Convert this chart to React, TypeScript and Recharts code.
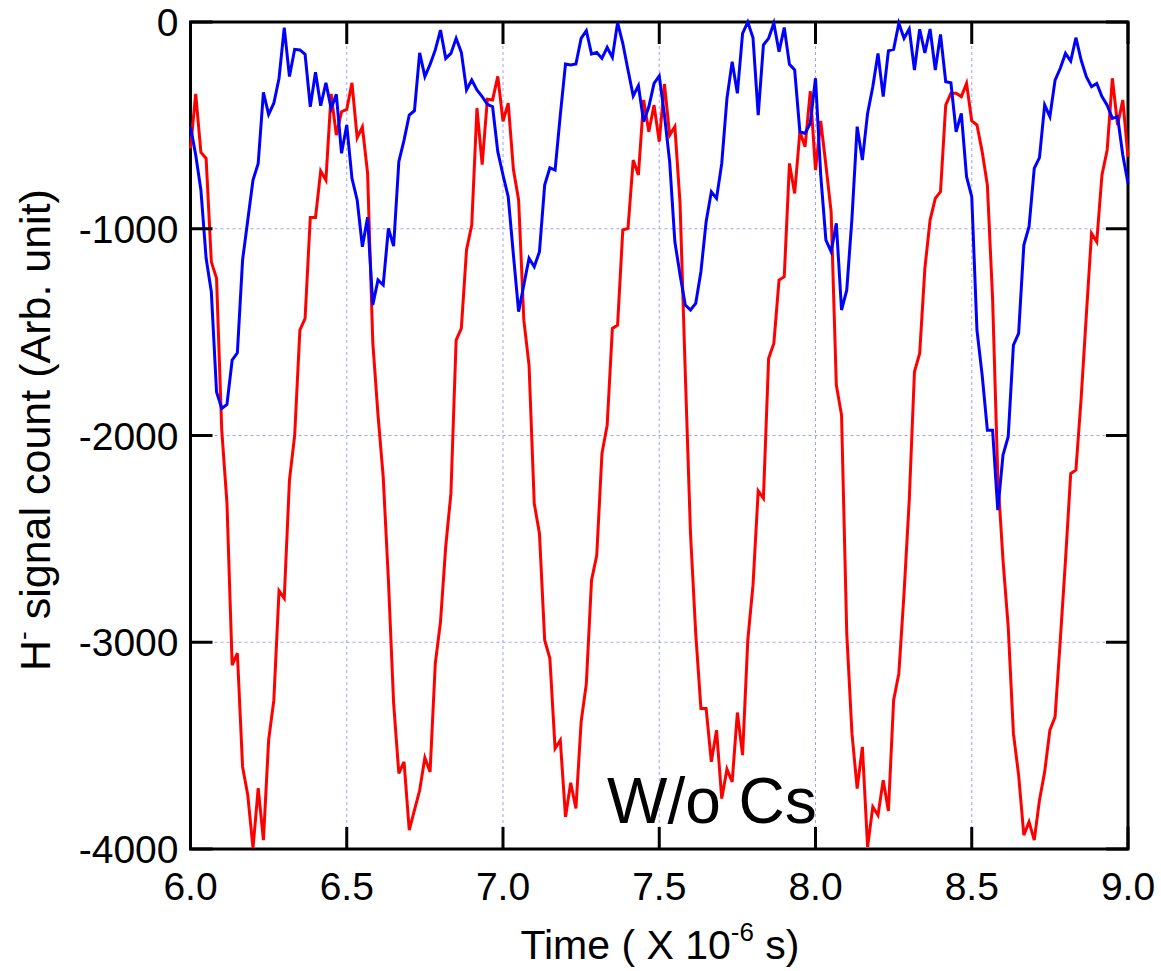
import { LineChart, Line, XAxis, YAxis, CartesianGrid, ReferenceArea } from 'recharts';

// sampling: one point every 1/60 us, starting at 6.0 us
const TIME_START = 6;
const SAMPLES_PER_US = 60;

const timeTicks = [6, 6.5, 7, 7.5, 8, 8.5, 9];
const countTicks = [-4000, -3000, -2000, -1000, 0];

const redSignal = [
    -611, -348, -631, -660, -1160, -1240, -1974, -2327, -3111, -3053,
    -3603, -3740, -3996, -3706, -3957, -3474, -3280, -2751, -2787, -2216,
    -2000, -1490, -1434, -945, -945, -721, -765, -348, -547, -434,
    -423, -294, -560, -507, -731, -1550, -1900, -2200, -2700, -3295,
    -3634, -3578, -3909, -3812, -3716, -3558, -3627, -3103, -2901, -2538,
    -2280, -1539, -1482, -1101, -982, -416, -690, -373, -377, -263,
    -480, -392, -714, -861, -1442, -1659, -2329, -2474, -2990, -3078,
    -3514, -3474, -3845, -3680, -3804, -3385, -3200, -2700, -2579, -2087,
    -1950, -1482, -1466, -1006, -998, -668, -740, -377, -531, -402,
    -579, -300, -547, -506, -880, -1700, -2474, -2956, -3320, -3320,
    -3578, -3425, -3756, -3614, -3675, -3340, -3546, -2990, -2724, -2268,
    -2304, -1627, -1555, -1248, -1232, -684, -829, -531, -603, -334,
    -716, -479, -692, -918, -1756, -1901, -2956, -3441, -3708, -3506,
    -3990, -3796, -3837, -3667, -3816, -3280, -3151, -2764, -2313, -1692,
    -1603, -1192, -958, -853, -821, -402, -345, -345, -361, -297,
    -479, -498, -627, -789, -1337, -2200, -2603, -2925, -3441, -3643,
    -3933, -3869, -3957, -3764, -3627, -3425, -3361, -2990, -2603, -2184,
    -2167, -1821, -1418, -1022, -1063, -740, -619, -272, -498, -377,
    -652,
];

const blueSignal = [
    -506, -643, -813, -1143, -1305, -1789, -1869, -1850, -1635, -1600,
    -1151, -958, -764, -684, -340, -447, -393, -272, -27, -264,
    -132, -135, -156, -410, -243, -405, -294, -418, -350, -635,
    -498, -756, -861, -1087, -945, -1369, -1248, -1272, -998, -1084,
    -676, -571, -450, -429, -149, -264, -205, -135, -39, -176,
    -152, -79, -147, -329, -281, -329, -361, -398, -410, -627,
    -740, -845, -1127, -1401, -1272, -1143, -1184, -1111, -789, -705,
    -716, -450, -203, -208, -203, -79, -42, -155, -147, -176,
    -123, -171, -3, -103, -232, -358, -308, -482, -410, -297,
    -261, -450, -676, -1063, -1224, -1369, -1393, -1361, -1208, -966,
    -821, -853, -684, -369, -192, -345, -55, 0, -76, -450,
    -111, -79, -6, -144, -27, -205, -232, -531, -539, -490,
    -272, -740, -1055, -1111, -974, -1393, -1297, -950, -506, -668,
    -442, -313, -152, -361, -140, -132, -6, -79, -34, -232,
    -35, -149, -34, -232, -60, -289, -294, -531, -442, -748,
    -845, -1490, -1708, -1974, -1974, -2361, -2095, -2006, -1563, -1506,
    -1079, -990, -708, -656, -402, -458, -281, -224, -152, -189,
    -76, -184, -264, -313, -297, -361, -402, -466, -458, -643,
    -780,
];

const data = redSignal.map((red, i) => ({
    time: TIME_START + i / SAMPLES_PER_US,
    red,
    blue: blueSignal[i],
}));

const WIDTH = 1161;
const HEIGHT = 971;
const PLOT_LEFT = 190.5;
const PLOT_RIGHT = 1128;
const PLOT_TOP = 22;
const PLOT_BOTTOM = 849;
const Y_AXIS_W = 100;
const X_AXIS_H = 60;
const TICK_LEN = 22;
const FONT = '"Liberation Sans", Arial, sans-serif';

function TimeTick(props: any) {
    const { x, payload } = props;
    return (
        <g>
            <line x1={x} y1={PLOT_BOTTOM} x2={x} y2={PLOT_BOTTOM - TICK_LEN} stroke="#000" strokeWidth={3} />
            <line x1={x} y1={PLOT_TOP} x2={x} y2={PLOT_TOP + TICK_LEN} stroke="#000" strokeWidth={3} />
            <text x={x} y={PLOT_BOTTOM + 51} textAnchor="middle" fontSize={39} fontFamily={FONT} fill="#000">
                {Number(payload.value).toFixed(1)}
            </text>
        </g>
    );
}

function CountTick(props: any) {
    const { y, payload } = props;
    return (
        <g>
            <line x1={PLOT_LEFT} y1={y} x2={PLOT_LEFT + TICK_LEN} y2={y} stroke="#000" strokeWidth={3} />
            <line x1={PLOT_RIGHT} y1={y} x2={PLOT_RIGHT - TICK_LEN} y2={y} stroke="#000" strokeWidth={3} />
            <text x={PLOT_LEFT - 12} y={y + 14} textAnchor="end" fontSize={39} fontFamily={FONT} fill="#000">
                {payload.value}
            </text>
        </g>
    );
}

function TimeTitle() {
    return (
        <g>
            <text x={660} y={959} textAnchor="middle" fontSize={41} fontFamily={FONT} fill="#000">
                Time ( X 10
                <tspan dy={-18} fontSize={26}>-6</tspan>
                <tspan dy={18}> s)</tspan>
            </text>
            <text x={607} y={823} fontSize={64} fontFamily={FONT} fill="#000">
                W/o Cs
            </text>
        </g>
    );
}

function CountTitle() {
    return (
        <text
            x={50}
            y={430}
            transform="rotate(-90, 50, 430)"
            textAnchor="middle"
            fontSize={43}
            fontFamily={FONT}
            fill="#000"
        >
            H
            <tspan dy={-18} fontSize={26}>-</tspan>
            <tspan dy={18}> signal count (Arb. unit)</tspan>
        </text>
    );
}

export default function App() {
    return (
        <div style={{ position: 'absolute', left: 0, top: 0, width: WIDTH, height: HEIGHT, background: '#fff' }}>
            <LineChart
                width={WIDTH}
                height={HEIGHT}
                data={data}
                margin={{
                    top: PLOT_TOP,
                    right: WIDTH - PLOT_RIGHT,
                    left: PLOT_LEFT - Y_AXIS_W,
                    bottom: HEIGHT - PLOT_BOTTOM - X_AXIS_H,
                }}
            >
                <CartesianGrid stroke="#a0a0ff" strokeDasharray="3 3" strokeWidth={1} />
                <XAxis
                    dataKey="time"
                    type="number"
                    domain={[6, 9]}
                    ticks={timeTicks}
                    height={X_AXIS_H}
                    axisLine={false}
                    tickLine={false}
                    tick={TimeTick}
                    interval={0}
                    label={{ content: TimeTitle }}
                />
                <YAxis
                    type="number"
                    domain={[-4000, 0]}
                    ticks={countTicks}
                    width={Y_AXIS_W}
                    axisLine={false}
                    tickLine={false}
                    tick={CountTick}
                    interval={0}
                    label={{ content: CountTitle }}
                />
                <Line type="linear" dataKey="red" stroke="#ff0000" strokeWidth={3} dot={false} isAnimationActive={false} />
                <Line type="linear" dataKey="blue" stroke="#0000ff" strokeWidth={3} dot={false} isAnimationActive={false} />
                <ReferenceArea x1={6} x2={9} y1={-4000} y2={0} fill="none" stroke="#000" strokeWidth={3} />
            </LineChart>
        </div>
    );
}
